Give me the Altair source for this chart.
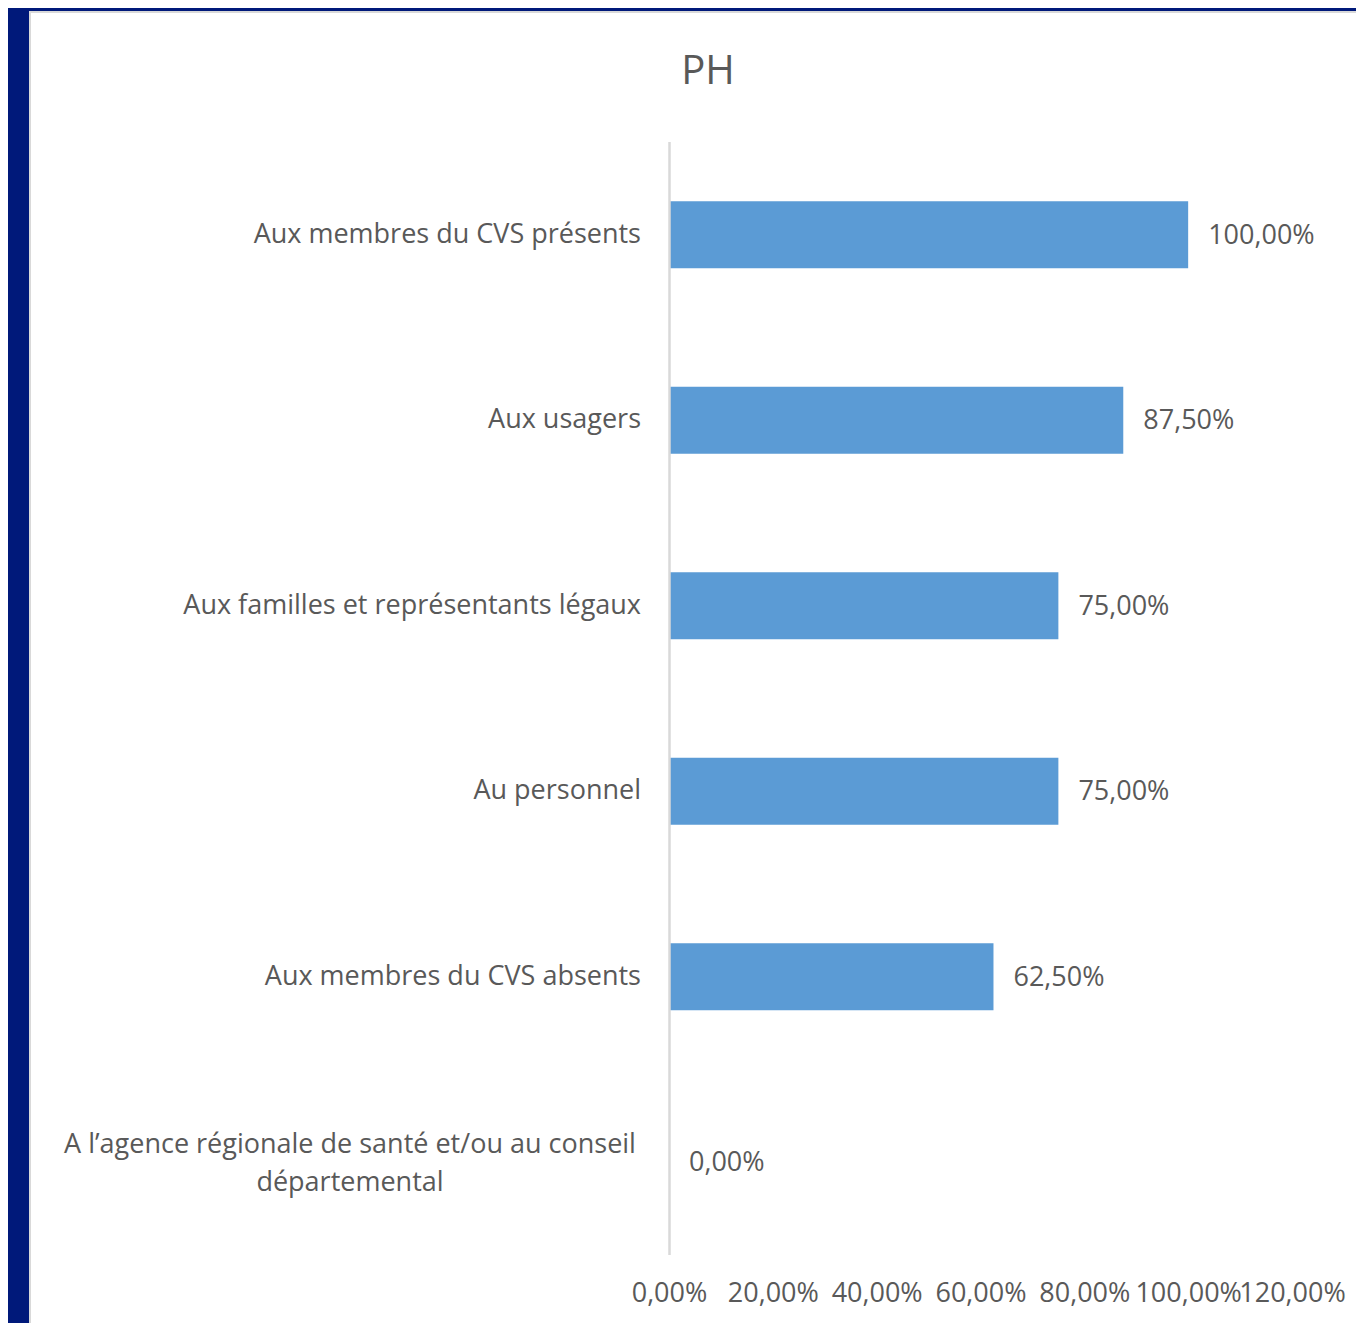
import altair as alt
import pandas as pd

title_text = "PH"
categories = [
    "Aux membres du CVS présents",
    "Aux usagers",
    "Aux familles et représentants légaux",
    "Au personnel",
    "Aux membres du CVS absents",
    "A l’agence régionale de santé et/ou au conseil départemental",
]
values = [1.0, 0.875, 0.75, 0.75, 0.625, 0.0]
label_lines = [
    ["Aux membres du CVS présents"],
    ["Aux usagers"],
    ["Aux familles et représentants légaux"],
    ["Au personnel"],
    ["Aux membres du CVS absents"],
    ["A l’agence régionale de santé et/ou au conseil", "départemental"],
]
tick_values = [0, 0.2, 0.4, 0.6, 0.8, 1.0, 1.2]

df = pd.DataFrame({
    "cat": categories,
    "val": values,
    "txt": [f"{v*100:.2f}".replace(".", ",") + "%" for v in values],
    "lines": label_lines,
    "nlines": [len(l) for l in label_lines],
})

FONT = "Open Sans"
GREY = "#595959"
BAR = "#5b9bd5"
FS = 27

y_enc = alt.Y("cat:N", sort=categories, axis=None,
              scale=alt.Scale(paddingInner=0.64, paddingOuter=0.32))

panel = alt.Chart(pd.DataFrame({"k": [0]})).mark_rect(
    fill="white", stroke="#d9d9d9", strokeWidth=2
).encode(
    x=alt.value(-639), x2=alt.value(700),
    y=alt.value(-130), y2=alt.value(1200),
)

title = alt.Chart(pd.DataFrame({"t": [title_text]})).mark_text(
    align="center", baseline="middle", font=FONT, fontSize=40, color=GREY
).encode(x=alt.value(39), y=alt.value(-70), text="t:N")

bars = alt.Chart(df).mark_bar(color=BAR).encode(
    x=alt.X("val:Q", scale=alt.Scale(domain=[0, 1.2], nice=False),
            axis=alt.Axis(values=tick_values,
                          labelExpr="replace(format(datum.value*100, '.2f'), '.', ',') + '%'",
                          grid=False, ticks=False, domain=False, title=None,
                          labelFont=FONT, labelFontSize=FS, labelColor=GREY,
                          labelPadding=25, labelFlush=False, labelOverlap=False,
                          zindex=1)),
    y=y_enc,
)

axis_line = alt.Chart(pd.DataFrame({"k": [0]})).mark_rule(
    color="#d9d9d9", strokeWidth=2.5
).encode(x=alt.value(0.5), y=alt.value(0), y2=alt.value(1113))

value_labels = alt.Chart(df).mark_text(
    align="left", baseline="middle", dx=20, dy=1, font=FONT, fontSize=FS, color=GREY
).encode(x="val:Q", y=y_enc, text="txt:N")

single_labels = alt.Chart(df).transform_filter("datum.nlines == 1").mark_text(
    align="right", baseline="middle", font=FONT, fontSize=FS, color=GREY
).encode(x=alt.value(-28), y=y_enc, text="cat:N")

multi_labels = alt.Chart(df).transform_filter("datum.nlines > 1").mark_text(
    align="center", baseline="middle", font=FONT, fontSize=FS, color=GREY,
    lineHeight=38, dy=-17
).encode(x=alt.value(-319), y=y_enc, text="lines")

chart = alt.layer(
    panel, title, bars, axis_line, value_labels, single_labels, multi_labels
).properties(
    width=623, height=1113,
    autosize=alt.AutoSizeParams(type="none"),
    padding={"left": 661, "top": 134, "right": 64, "bottom": 68},
    background="#00197a",
).configure_view(stroke=None)

chart.save("out.html", embed_options={"renderer": "svg", "actions": False})
